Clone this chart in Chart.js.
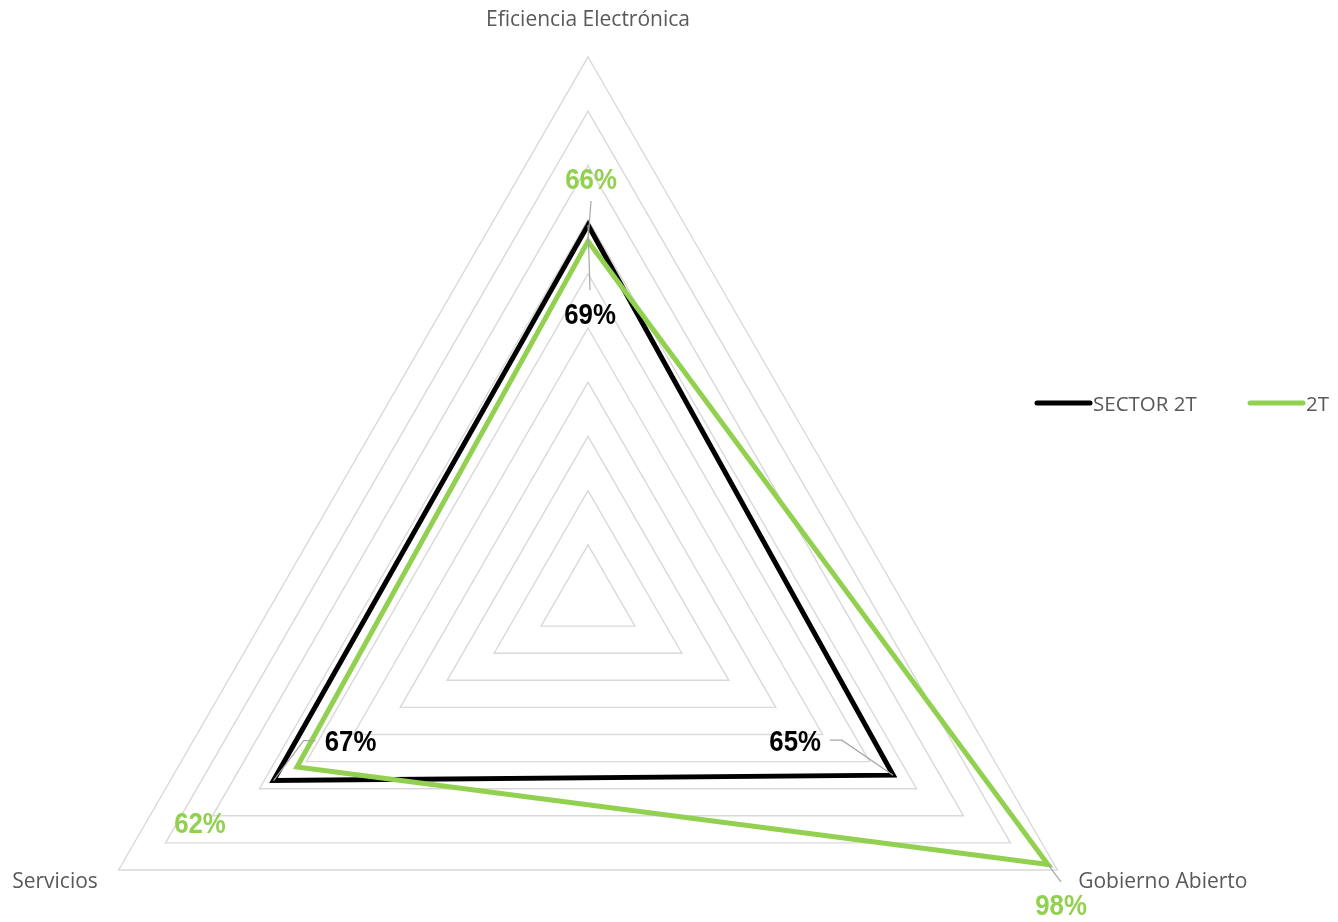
<!DOCTYPE html>
<html lang="es">
<head>
<meta charset="utf-8">
<title>Radar SECTOR 2T / 2T</title>
<script src="https://cdn.jsdelivr.net/npm/chart.js@4.4.1/dist/chart.umd.min.js"></script>
<style>
  html, body { margin: 0; padding: 0; background: #ffffff; overflow: hidden; }
  #frame { position: relative; width: 1338px; height: 922px; overflow: hidden; }
  /* the triangle's circumscribed circle is taller than the page, so the canvas extends below it */
  #box { position: absolute; left: 0; top: 0; width: 1338px; height: 1200px; }
</style>
</head>
<body>
<div id="frame"><div id="box"><canvas id="radar"></canvas></div></div>
<script>
// ---- data ----
const categories = ['Eficiencia Electrónica', 'Gobierno Abierto', 'Servicios'];
const seriesNames = ['SECTOR 2T', '2T'];
const sectorValues = [0.69, 0.65, 0.67];
const quarterValues = [0.66, 0.98, 0.62];

// ---- styling ----
const GREEN = '#92d050';
const BLACK = '#000000';
const TEXT_GREY = '#595959';
const GRID_GREY = '#d9d9d9';
const LEADER_GREY = '#a6a6a6';
const AXIS_FONT = '21px "Open Sans", "Noto Sans", sans-serif';
const LEGEND_FONT = '20.5px "Open Sans", "Noto Sans", sans-serif';
const VALUE_SIZE = 30;
const VALUE_SQUEEZE = 0.86; // condensed look for the bold percentages
const VALUE_FONT = 'bold ' + VALUE_SIZE + 'px "Liberation Sans", Arial, sans-serif';

// where each value label sits relative to its vertex, and how its leader line runs
const valueLabelPlacement = [
  [ { dx: 2, dy: 88, leader: 'v' }, { dx: -98, dy: -35, leader: 'h' }, { dx: 77, dy: -40, leader: 'h' } ],
  [ { dx: 3, dy: -63, leader: 'v' }, { dx: 13, dy: 40, leader: 'v' }, { dx: -97, dy: 55, leader: null } ]
];

const pct = v => Math.round(v * 100) + '%';

// category names around the triangle
const axisTitles = {
  id: 'axisTitles',
  afterDraw(chart) {
    const scale = chart.scales.r;
    const ctx = chart.ctx;
    ctx.save();
    ctx.font = AXIS_FONT;
    ctx.fillStyle = TEXT_GREY;
    chart.data.labels.forEach((text, i) => {
      const p = scale.getPointPosition(i, scale.drawingArea + 24);
      const deg = Math.round(((scale.getIndexAngle(i) * 180 / Math.PI) % 360 + 360) % 360);
      if (deg === 0) {
        ctx.textAlign = 'center';
        ctx.textBaseline = 'alphabetic';
        ctx.fillText(text, p.x, p.y - 7);
      } else {
        ctx.textAlign = deg < 180 ? 'left' : 'right';
        ctx.textBaseline = 'middle';
        ctx.fillText(text, p.x, p.y);
      }
    });
    ctx.restore();
  }
};

// percentage labels with leader lines
const valueLabels = {
  id: 'valueLabels',
  afterDatasetsDraw(chart) {
    const ctx = chart.ctx;
    ctx.save();
    ctx.font = VALUE_FONT;
    const digitH = VALUE_SIZE * 0.716;
    chart.data.datasets.forEach((ds, di) => {
      const meta = chart.getDatasetMeta(di);
      meta.data.forEach((pt, i) => {
        const place = valueLabelPlacement[di][i];
        const text = pct(ds.data[i]);
        const cx = pt.x + place.dx;
        const cy = pt.y + place.dy;
        const w = ctx.measureText(text).width * VALUE_SQUEEZE;
        const gap = 12;
        if (place.leader) {
          ctx.strokeStyle = LEADER_GREY;
          ctx.lineWidth = 1.2;
          ctx.beginPath();
          if (place.leader === 'v') {
            const sy = pt.y < cy ? cy - digitH / 2 - gap : cy + digitH / 2 + gap;
            ctx.moveTo(cx, sy);
          } else {
            const dir = pt.x > cx ? 1 : -1;
            const sx = cx + dir * (w / 2 + 9);
            ctx.moveTo(sx, cy);
            ctx.lineTo(sx + dir * 12, cy);
          }
          ctx.lineTo(pt.x, pt.y);
          ctx.stroke();
        }
        ctx.save();
        ctx.translate(cx, cy + digitH / 2);
        ctx.scale(VALUE_SQUEEZE, 1);
        ctx.fillStyle = ds.borderColor;
        ctx.textAlign = 'center';
        ctx.textBaseline = 'alphabetic';
        ctx.fillText(text, 0, 0);
        ctx.restore();
      });
    });
    ctx.restore();
  }
};

// horizontal legend with line swatches
const legendSlots = [1035, 1248];
const lineLegend = {
  id: 'lineLegend',
  afterDraw(chart) {
    const ctx = chart.ctx;
    const y = 403;
    ctx.save();
    ctx.font = LEGEND_FONT;
    ctx.textAlign = 'left';
    ctx.textBaseline = 'alphabetic';
    chart.data.datasets.forEach((ds, i) => {
      const x = legendSlots[i];
      ctx.strokeStyle = ds.borderColor;
      ctx.lineWidth = 5;
      ctx.lineCap = 'round';
      ctx.beginPath();
      ctx.moveTo(x + 2, y);
      ctx.lineTo(x + 55, y);
      ctx.stroke();
      ctx.fillStyle = TEXT_GREY;
      ctx.fillText(ds.label, x + 58, y + 7.5);
    });
    ctx.restore();
  }
};

new Chart(document.getElementById('radar'), {
  type: 'radar',
  data: {
    labels: categories,
    datasets: [
      { label: seriesNames[0], data: sectorValues, borderColor: BLACK, backgroundColor: BLACK, order: 1, fill: false },
      { label: seriesNames[1], data: quarterValues, borderColor: GREEN, backgroundColor: GREEN, order: 0, fill: false }
    ]
  },
  options: {
    responsive: true,
    maintainAspectRatio: false,
    animation: false,
    devicePixelRatio: 1,
    layout: { padding: { left: 46, right: 208, top: 57, bottom: 59 } },
    events: [],
    plugins: { legend: { display: false }, tooltip: { enabled: false } },
    elements: {
      line: { borderWidth: 5, tension: 0, borderJoinStyle: 'miter' },
      point: { radius: 0, hoverRadius: 0 }
    },
    scales: {
      r: {
        min: 0,
        max: 1,
        ticks: { display: false, stepSize: 0.1 },
        grid: { color: GRID_GREY, lineWidth: 1.4, circular: false },
        angleLines: { display: false },
        pointLabels: { display: false }
      }
    }
  },
  plugins: [axisTitles, valueLabels, lineLegend]
});
</script>
</body>
</html>
